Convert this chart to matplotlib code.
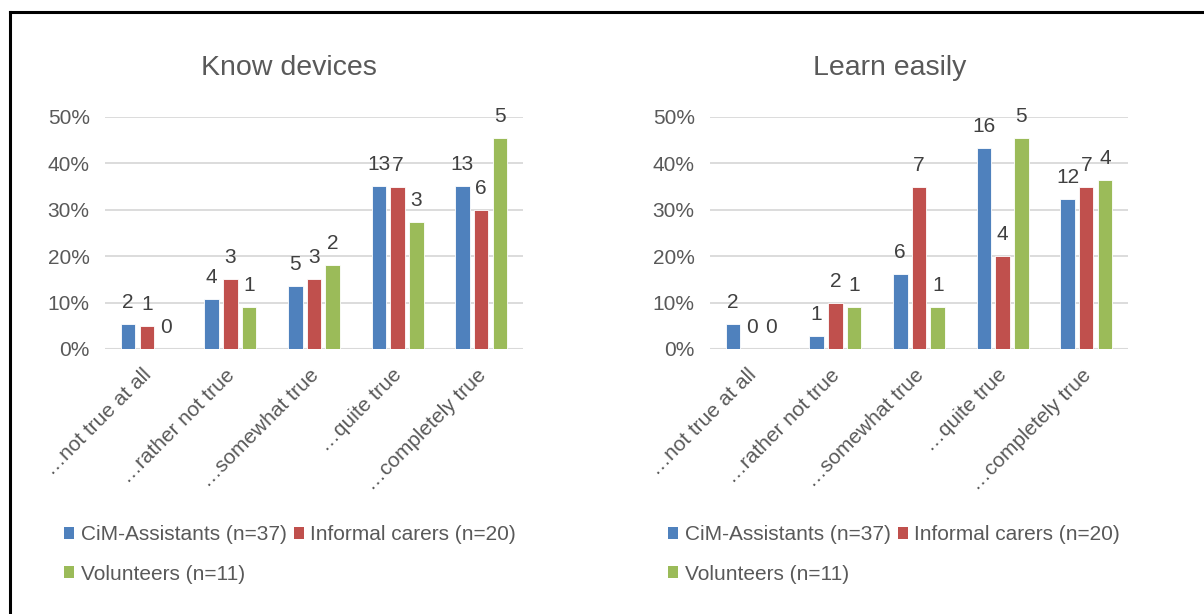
import matplotlib.pyplot as plt
import matplotlib.transforms as mtransforms
from matplotlib.lines import Line2D
from matplotlib.patches import Patch
import numpy as np

plt.rcParams['font.family'] = ['Liberation Sans', 'DejaVu Sans']

categories = ["…not true at all", "…rather not true", "…somewhat true", "…quite true", "…completely true"]
groups = ["CiM-Assistants (n=37)", "Informal carers (n=20)", "Volunteers (n=11)"]
group_n = [37, 20, 11]
colors = ["#4F81BD", "#C0504D", "#9BBB59"]

# answer counts per group (labels on the bars); bar height = count / n
know_cim = [2, 4, 5, 13, 13]
know_informal = [1, 3, 3, 7, 6]
know_volunteers = [0, 1, 2, 3, 5]

learn_cim = [2, 1, 6, 16, 12]
learn_informal = [0, 2, 7, 4, 7]
learn_volunteers = [0, 1, 1, 5, 4]

panels = [
    ("Know devices", [know_cim, know_informal, know_volunteers]),
    ("Learn easily", [learn_cim, learn_informal, learn_volunteers]),
]

W, H = 1204, 614
fig = plt.figure(figsize=(W / 100, H / 100), dpi=100)

TXT = "#595959"
LBL = "#404040"
GRID = "#D9D9D9"

ax_left_px = [105, 710]
title_x_px = [289, 890]
legend_x_px = [64, 668]

for k, (title, counts) in enumerate(panels):
    x0 = ax_left_px[k]
    ax = fig.add_axes([x0 / W, (H - 349) / H, 418 / W, 232 / H])
    x = np.arange(len(categories))
    for j, cnt in enumerate(counts):
        vals = np.array(cnt) / group_n[j]
        pos = x + (j - 1) * 0.224
        ax.bar(pos, vals, width=0.173, color=colors[j], edgecolor="white",
               linewidth=0.6, zorder=3)
        for p, v, c in zip(pos, vals, cnt):
            ax.annotate(str(c), (p, v), xytext=(0, 11.5), textcoords="offset points",
                        ha="center", va="baseline", fontsize=15, color=LBL,
                        annotation_clip=False)
    ax.set_xlim(-0.5, 4.5)
    ax.set_ylim(0, 0.5)
    ax.set_yticks(np.arange(0, 0.51, 0.1))
    ax.set_yticklabels([f"{int(round(t * 100))}%" for t in np.arange(0, 0.51, 0.1)])
    ax.grid(axis="y", color=GRID, linewidth=1.3, zorder=0)
    ax.set_axisbelow(True)
    for s in ax.spines.values():
        s.set_visible(False)
    ax.axhline(0, color=GRID, linewidth=1.5, zorder=1)
    ax.tick_params(axis="y", length=0, pad=11, labelsize=15, labelcolor=TXT)
    ax.tick_params(axis="x", length=0, pad=9, labelsize=15, labelcolor=TXT)
    ax.set_xticks(x)
    ax.set_xticklabels(categories, rotation=45, ha="right", va="top",
                       rotation_mode="anchor")
    shift = mtransforms.ScaledTranslation(-5 / 100, -4 / 100, fig.dpi_scale_trans)
    for lab in ax.get_xticklabels():
        lab.set_transform(lab.get_transform() + shift)
    ax.patch.set_alpha(0)

    fig.text(title_x_px[k] / W, 1 - 68 / H, title, ha="center", va="center",
             fontsize=20.5, color=TXT)

    handles = [Patch(facecolor=c, edgecolor="none") for c in colors]
    fig.legend(handles[:2], groups[:2], loc="center left",
               bbox_to_anchor=(legend_x_px[k] / W, 1 - 535 / H), ncol=2,
               frameon=False, fontsize=15, labelcolor=TXT, handlelength=0.5,
               handleheight=0.5, handletextpad=0.3, columnspacing=0.35,
               borderaxespad=0, borderpad=0)
    fig.legend(handles[2:], groups[2:], loc="center left",
               bbox_to_anchor=(legend_x_px[k] / W, 1 - 574 / H), ncol=1,
               frameon=False, fontsize=15, labelcolor=TXT, handlelength=0.5,
               handleheight=0.5, handletextpad=0.3, borderaxespad=0, borderpad=0)

# outer frame (top and left edges visible)
fig.add_artist(Line2D([9.5 / W, 1], [1 - 12 / H, 1 - 12 / H], color="black", linewidth=2.2))
fig.add_artist(Line2D([9.5 / W, 9.5 / W], [0, 1 - 12 / H], color="black", linewidth=2.2))

fig.savefig("out.png", dpi=100)
